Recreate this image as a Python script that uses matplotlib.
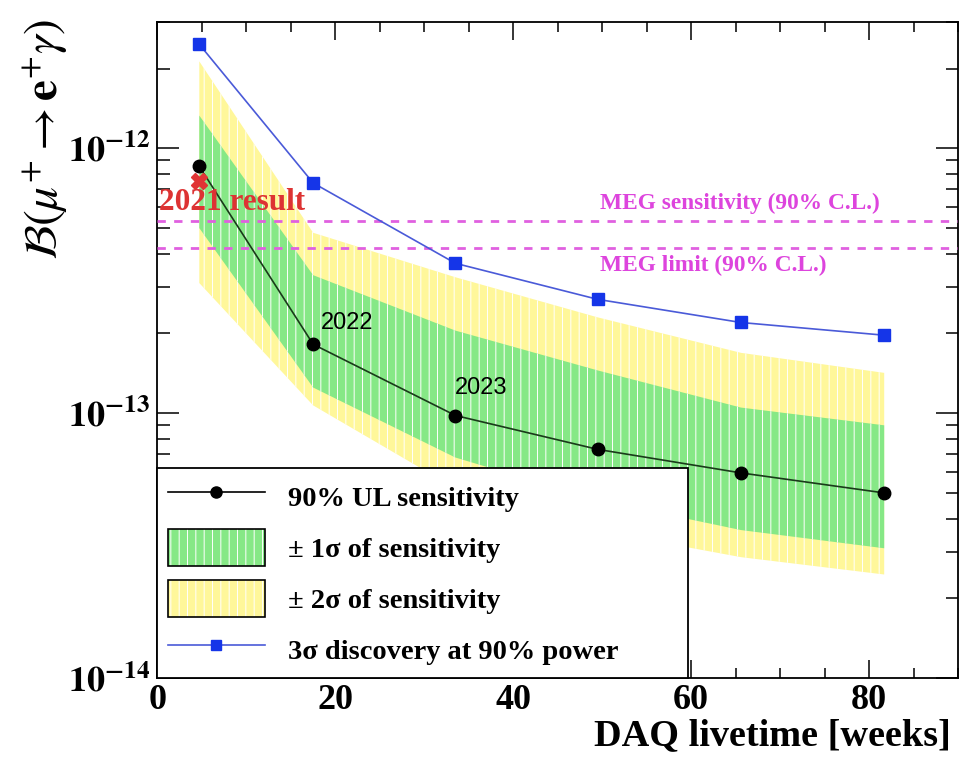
import matplotlib
matplotlib.use('Agg')
import matplotlib.pyplot as plt
from matplotlib.patches import Patch
from matplotlib.lines import Line2D
from matplotlib.ticker import LogLocator, MultipleLocator, FixedLocator, NullFormatter

plt.rcParams['font.family'] = 'Liberation Serif'
plt.rcParams['mathtext.fontset'] = 'stix'
plt.rcParams['hatch.linewidth'] = 0.7

# DAQ livetime [weeks]
weeks = [4.7, 17.5, 33.5, 49.5, 65.6, 81.7]
# 90% UL sensitivity
sens = [8.55e-13, 1.82e-13, 9.8e-14, 7.3e-14, 5.95e-14, 5.0e-14]
# 3 sigma discovery at 90% power
disc = [2.47e-12, 7.4e-13, 3.68e-13, 2.69e-13, 2.2e-13, 1.97e-13]
# bands
s1_lo = [5.0e-13, 1.25e-13, 6.8e-14, 4.7e-14, 3.62e-14, 3.09e-14]
s1_hi = [1.33e-12, 3.32e-13, 2.05e-13, 1.45e-13, 1.05e-13, 9.0e-14]
s2_lo = [3.1e-13, 1.07e-13, 5.2e-14, 3.6e-14, 2.86e-14, 2.46e-14]
s2_hi = [2.13e-12, 4.8e-13, 3.26e-13, 2.3e-13, 1.69e-13, 1.42e-13]

meg_sens = 5.3e-13
meg_limit = 4.2e-13
result_2021 = (4.7, 7.55e-13)

green = '#86e886'
yellow = '#fff79a'

fig = plt.figure(figsize=(9.74, 7.58), dpi=100)
ax = fig.add_axes([0.1617, 0.1055, 0.8219, 0.8655])

ax.fill_between(weeks, s2_lo, s2_hi, facecolor=yellow, edgecolor='white', hatch='||', linewidth=0, zorder=1)
ax.fill_between(weeks, s1_lo, s1_hi, facecolor=green, edgecolor='white', hatch='||', linewidth=0, zorder=2)

ax.axhline(meg_sens, color='#e060e0', ls=(0, (3, 3)), lw=2, zorder=3)
ax.axhline(meg_limit, color='#e060e0', ls=(0, (3, 3)), lw=2, zorder=3)

ax.plot(weeks, disc, color='#4a5ad8', lw=1.2, marker='s', ms=8, mfc='#1535e8', mec='#1535e8', zorder=5)
ax.plot(weeks, sens, color='#1a3a1a', lw=1.2, marker='o', ms=9, mfc='black', mec='black', zorder=6)
ax.plot([result_2021[0]], [result_2021[1]], marker='X', ms=12, color='#e03535', mec='#e03535', zorder=7, ls='none')

ax.text(0.2, 6.25e-13, '2021 result', color='#dd3333', fontsize=22.5, fontweight='bold', va='center', ha='left', zorder=8)
ax.text(18.4, 2.19e-13, '2022', fontfamily='Liberation Sans', fontsize=17, va='center', ha='left', zorder=8)
ax.text(33.4, 1.25e-13, '2023', fontfamily='Liberation Sans', fontsize=17, va='center', ha='left', zorder=8)
ax.text(49.7, 6.2e-13, 'MEG sensitivity (90% C.L.)', color='#dd44dd', fontsize=16.8, fontweight='bold', va='center', ha='left')
ax.text(49.7, 3.6e-13, 'MEG limit (90% C.L.)', color='#dd44dd', fontsize=16.8, fontweight='bold', va='center', ha='left')

ax.set_yscale('log')
ax.set_xlim(0, 90)
ax.set_ylim(1e-14, 3e-12)

ax.xaxis.set_major_locator(MultipleLocator(20))
ax.xaxis.set_minor_locator(MultipleLocator(5))
ax.yaxis.set_major_locator(FixedLocator([1e-14, 1e-13, 1e-12]))
ax.yaxis.set_minor_locator(LogLocator(base=10, subs=range(2, 10)))
ax.yaxis.set_minor_formatter(NullFormatter())
ax.set_yticklabels([r'$\mathbf{10^{-14}}$', r'$\mathbf{10^{-13}}$', r'$\mathbf{10^{-12}}$'])
ax.set_xticks([0, 20, 40, 60, 80])
ax.set_xticklabels(['0', '20', '40', '60', '80'], fontweight='bold')

ax.tick_params(axis='both', which='both', direction='in', top=True, right=True, width=1.1, colors='black')
ax.tick_params(axis='y', which='major', length=16, labelsize=26, pad=5)
ax.tick_params(axis='y', which='minor', length=9)
ax.tick_params(axis='x', which='major', length=13, labelsize=26, pad=4)
ax.tick_params(axis='x', which='minor', length=7)
for sp in ax.spines.values():
    sp.set_linewidth(1.3)

h_sens = Line2D([], [], color='black', lw=1.2, marker='o', ms=8, mfc='black')
h_1s = (Patch(facecolor=green, edgecolor='white', hatch='||', linewidth=0), Patch(facecolor='none', edgecolor='black', linewidth=1.2))
h_2s = (Patch(facecolor=yellow, edgecolor='white', hatch='||', linewidth=0), Patch(facecolor='none', edgecolor='black', linewidth=1.2))
h_disc = Line2D([], [], color='#4a5ad8', lw=1.2, marker='s', ms=7, mfc='#1535e8', mec='#1535e8')

leg = ax.legend([h_sens, h_1s, h_2s, h_disc],
                ['90% UL sensitivity', '± 1σ of sensitivity', '± 2σ of sensitivity', '3σ discovery at 90% power'],
                loc='lower left', bbox_to_anchor=(0.0, 0.0, 0.663, 0.318), mode='expand',
                prop={'weight': 'bold', 'size': 20.5}, handlelength=3.4, handleheight=1.6,
                labelspacing=0.5, borderaxespad=0, fancybox=False, framealpha=1,
                edgecolor='black', borderpad=0.37, handletextpad=0.8)
leg.get_frame().set_linewidth(1.3)
leg.set_zorder(10)

fig.text(0.046, 0.975, r'$\mathcal{B}(\mu^{+} \rightarrow \mathbf{e}^{+}\gamma)$', rotation=90,
         fontsize=34, ha='center', va='top')
fig.text(0.976, 0.006, 'DAQ livetime [weeks]', fontsize=27.5, fontweight='bold', ha='right', va='bottom')

fig.savefig('out.png', dpi=100)
